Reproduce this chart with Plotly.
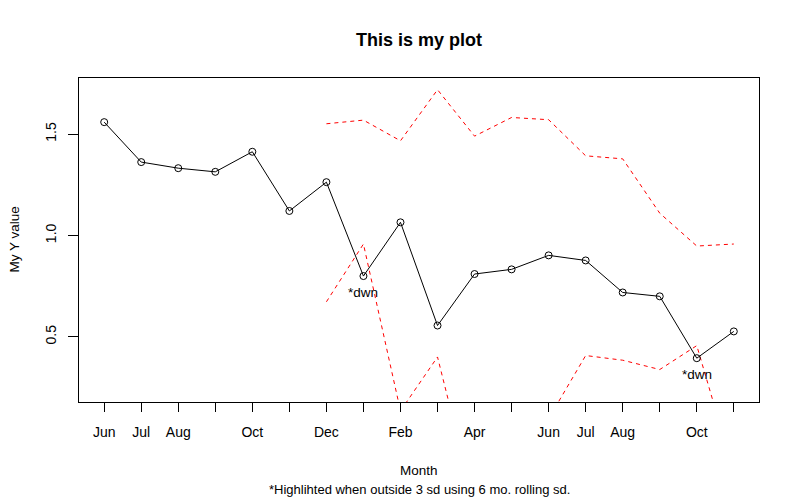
import plotly.graph_objects as go

# ---- data ----
months = ["Jun", "Jul", "Aug", "Sep", "Oct", "Nov", "Dec", "Jan", "Feb",
          "Mar", "Apr", "May", "Jun", "Jul", "Aug", "Sep", "Oct", "Nov"]
shown_labels = ["Jun", "Jul", "Aug", "", "Oct", "", "Dec", "", "Feb",
                "", "Apr", "", "Jun", "Jul", "Aug", "", "Oct", ""]
y_values = [1.559, 1.362, 1.332, 1.314, 1.413, 1.121, 1.263, 0.800, 1.065,
            0.556, 0.810, 0.833, 0.902, 0.877, 0.719, 0.700, 0.395, 0.527]
upper = [None, None, None, None, None, None, 1.551, 1.569, 1.467,
         1.719, 1.490, 1.582, 1.571, 1.393, 1.378, 1.110, 0.948, 0.958]
lower = [None, None, None, None, None, None, 0.673, 0.958, 0.135,
         0.401, -0.33, -0.10, 0.097, 0.408, 0.385, 0.339, 0.457, -0.167]
flags = ["", "", "", "", "", "", "", "*dwn", "", "", "", "", "", "", "", "", "*dwn", ""]
y_ticks = [0.5, 1.0, 1.5]
y_tick_text = ["0.5", "1.0", "1.5"]

x = list(range(1, len(months) + 1))

FONT = "Liberation Sans, Arial, sans-serif"
PLOT_TOP, PLOT_BOTTOM = 78, 402
PLOT_H = PLOT_BOTTOM - PLOT_TOP

fig = go.Figure()
fig.add_trace(go.Scatter(x=x, y=upper, mode="lines",
                         line=dict(color="red", width=1, dash="4px,4px"),
                         connectgaps=False, showlegend=False, hoverinfo="skip"))
fig.add_trace(go.Scatter(x=x, y=lower, mode="lines",
                         line=dict(color="red", width=1, dash="4px,4px"),
                         connectgaps=False, showlegend=False, hoverinfo="skip"))
fig.add_trace(go.Scatter(x=x, y=y_values, mode="lines+markers",
                         line=dict(color="black", width=1),
                         marker=dict(symbol="circle-open", size=7, color="black",
                                     line=dict(width=1, color="black")),
                         showlegend=False))

for xi, yi, f in zip(x, y_values, flags):
    if f:
        fig.add_annotation(x=xi, y=yi, text=f, showarrow=False, yshift=-16,
                           font=dict(family=FONT, size=13.5, color="black"))

fig.add_annotation(text="Month", xref="paper", yref="paper", x=0.5,
                   y=(PLOT_BOTTOM - 470) / PLOT_H, showarrow=False, yanchor="middle",
                   font=dict(family=FONT, size=13.5, color="black"))
fig.add_annotation(text="*Highlihted when outside 3 sd using 6 mo. rolling sd.",
                   xref="paper", yref="paper", x=0.5, y=(PLOT_BOTTOM - 490) / PLOT_H,
                   showarrow=False, yanchor="middle",
                   font=dict(family=FONT, size=13, color="black"))
fig.add_annotation(text="My Y value", xref="paper", yref="paper",
                   x=(13.5 - 79) / 680, y=0.5, textangle=-90, showarrow=False,
                   xanchor="center", yanchor="middle",
                   font=dict(family=FONT, size=13.5, color="black"))

fig.update_layout(
    width=800, height=500,
    margin=dict(l=79, r=41, t=PLOT_TOP, b=500 - PLOT_BOTTOM, autoexpand=False),
    paper_bgcolor="white", plot_bgcolor="white",
    font=dict(family=FONT, color="black"),
    title=dict(text="<b>This is my plot</b>", x=419 / 800, xanchor="center",
               y=1 - 40 / 500, yanchor="middle", yref="container",
               font=dict(family=FONT, size=18, color="black")),
    xaxis=dict(range=[0.32, 18.68], tickmode="array", tickvals=x, ticktext=shown_labels,
               ticks="outside", ticklen=9, tickcolor="black", tickwidth=1,
               showline=True, mirror=True, linecolor="black", linewidth=1,
               showgrid=False, zeroline=False, tickfont=dict(size=14), automargin=False,
               ticklabelstandoff=8),
    yaxis=dict(range=[0.1789, 1.7767], tickmode="array", tickvals=y_ticks, ticktext=y_tick_text,
               tickangle=-90, ticks="outside", ticklen=10, tickcolor="black", tickwidth=1,
               showline=True, mirror=True, linecolor="black", linewidth=1,
               showgrid=False, zeroline=False, tickfont=dict(size=14), automargin=False,
               ticklabelstandoff=6),
)

fig.write_html("out.html", config={"displayModeBar": False},
               post_script="document.body.style.margin='0';")
